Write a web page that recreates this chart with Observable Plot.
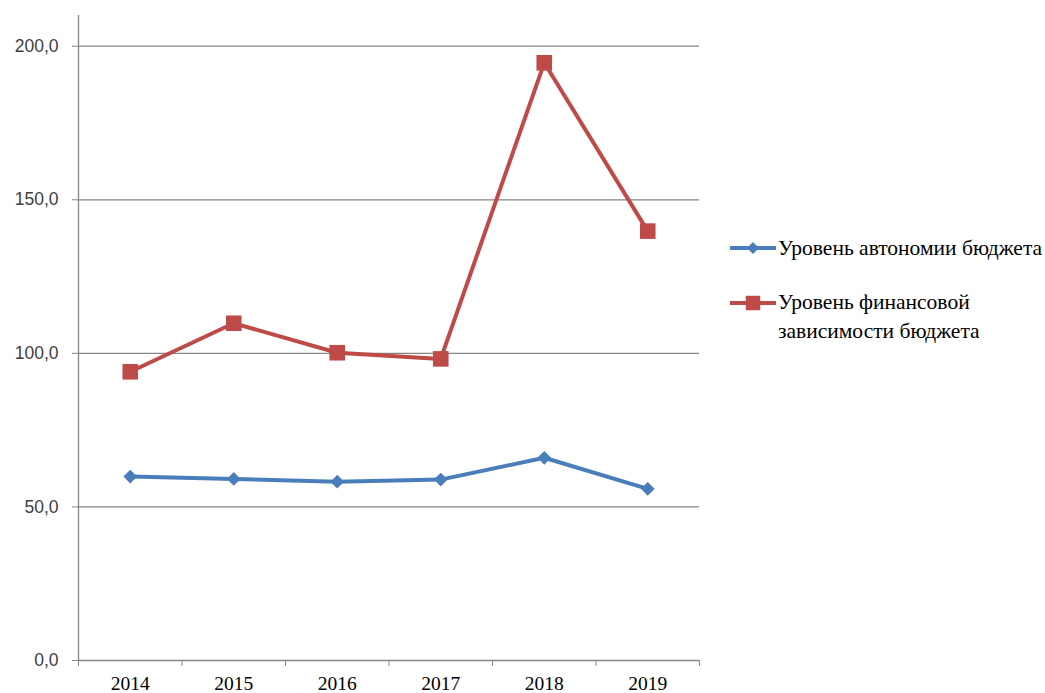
<!DOCTYPE html>
<html lang="ru">
<head>
<meta charset="utf-8">
<script src="https://cdn.jsdelivr.net/npm/d3@7"></script>
<script src="https://cdn.jsdelivr.net/npm/@observablehq/plot@0.6"></script>
<style>
  html, body { margin: 0; padding: 0; background: #fff; }
  #chart { position: relative; width: 1045px; height: 693px; overflow: hidden; }
  #legend { position: absolute; left: 730px; top: 240px; font-family: "Liberation Serif", "DejaVu Serif", serif; font-size: 21.5px; color: #000; }
  .item { display: flex; align-items: flex-start; margin-bottom: 32px; }
  .item svg { flex: none; }
  .item span { line-height: 29px; margin-top: -6.5px; white-space: nowrap; }
</style>
</head>
<body>
<div id="chart"></div>
<script>
// Budget indicators by year, %
const years = [2014, 2015, 2016, 2017, 2018, 2019];
const autonomy = [59.9, 59.1, 58.2, 58.9, 66.0, 55.9];
const dependence = [94.0, 109.8, 100.2, 98.2, 194.6, 139.8];
const seriesNames = ["Уровень автономии бюджета", "Уровень финансовой зависимости бюджета"];
const seriesLegendLines = [["Уровень автономии бюджета"], ["Уровень финансовой", "зависимости бюджета"]];
const seriesColors = ["#4a7ebb", "#be4b48"];
const seriesSymbols = ["diamond2", "square"];
const yTicks = [0, 50, 100, 150, 200];

const rows = [];
years.forEach((yr, i) => {
  rows.push({year: yr, value: autonomy[i], series: seriesNames[0]});
  rows.push({year: yr, value: dependence[i], series: seriesNames[1]});
});

// category boundaries sit halfway between neighbouring years
const xMin = years[0] - 0.5;
const xMax = years[years.length - 1] + 0.5;
const bounds = [xMin, ...years.map(y => y + 0.5)];

const gridColor = "#868686";
const serif = "'Liberation Serif', 'DejaVu Serif', serif";
const fmt = d => d.toFixed(1).replace(".", ",");

const plot = Plot.plot({
  width: 1045,
  height: 693,
  marginLeft: 78,
  marginRight: 346,
  marginTop: 15,
  marginBottom: 33,
  x: {type: "linear", domain: [xMin, xMax]},
  y: {domain: [0, 210]},
  color: {domain: seriesNames, range: seriesColors},
  symbol: {domain: seriesNames, range: seriesSymbols},
  style: {background: "#fff", overflow: "visible"},
  marks: [
    Plot.ruleY(yTicks.filter(d => d > 0), {x1: xMin, x2: xMax, stroke: gridColor, strokeWidth: 1.3}),
    Plot.ruleX([xMin], {stroke: gridColor, strokeWidth: 1.3}),
    Plot.ruleY([0], {x1: xMin, x2: xMax, stroke: gridColor, strokeWidth: 1.3}),
    Plot.axisY({ticks: yTicks, tickSize: 6, tickPadding: 14, tickFormat: fmt, stroke: gridColor,
      fontSize: 17.5, fontFamily: "'Liberation Sans', Arial, sans-serif", fill: "#404040", label: null}),
    Plot.axisX({ticks: bounds, tickSize: 6, tickFormat: () => "", stroke: gridColor, label: null}),
    Plot.axisX({ticks: years, tickSize: 0, tickPadding: 16, tickFormat: d => String(d),
      fontSize: 19.5, fontFamily: serif, fill: "#000", label: null}),
    Plot.line(rows, {x: "year", y: "value", z: "series", stroke: "series", strokeWidth: 4}),
    Plot.dot(rows.filter(r => r.series === seriesNames[0]), {x: "year", y: "value", symbol: "series", fill: "series", r: 6.2, stroke: null}),
    Plot.dot(rows.filter(r => r.series === seriesNames[1]), {x: "year", y: "value", symbol: "series", fill: "series", r: 8.8, stroke: null})
  ]
});

const chart = document.getElementById("chart");
chart.appendChild(plot);

// legend to the right of the plot
const legend = document.createElement("div");
legend.id = "legend";
seriesNames.forEach((name, i) => {
  const item = document.createElement("div");
  item.className = "item";
  const sw = d3.create("svg").attr("width", 48).attr("height", 16);
  sw.append("line").attr("x1", 0).attr("x2", 46).attr("y1", 8).attr("y2", 8)
    .attr("stroke", seriesColors[i]).attr("stroke-width", 4);
  const sym = seriesSymbols[i] === "square" ? d3.symbolSquare : d3.symbolDiamond2;
  const size = seriesSymbols[i] === "square" ? 210 : 90;
  sw.append("path").attr("transform", "translate(23,8)")
    .attr("d", d3.symbol(sym, size)()).attr("fill", seriesColors[i]);
  item.appendChild(sw.node());
  const label = document.createElement("span");
  label.innerHTML = seriesLegendLines[i].join("<br>");
  item.appendChild(label);
  legend.appendChild(item);
});
chart.appendChild(legend);
</script>
</body>
</html>
